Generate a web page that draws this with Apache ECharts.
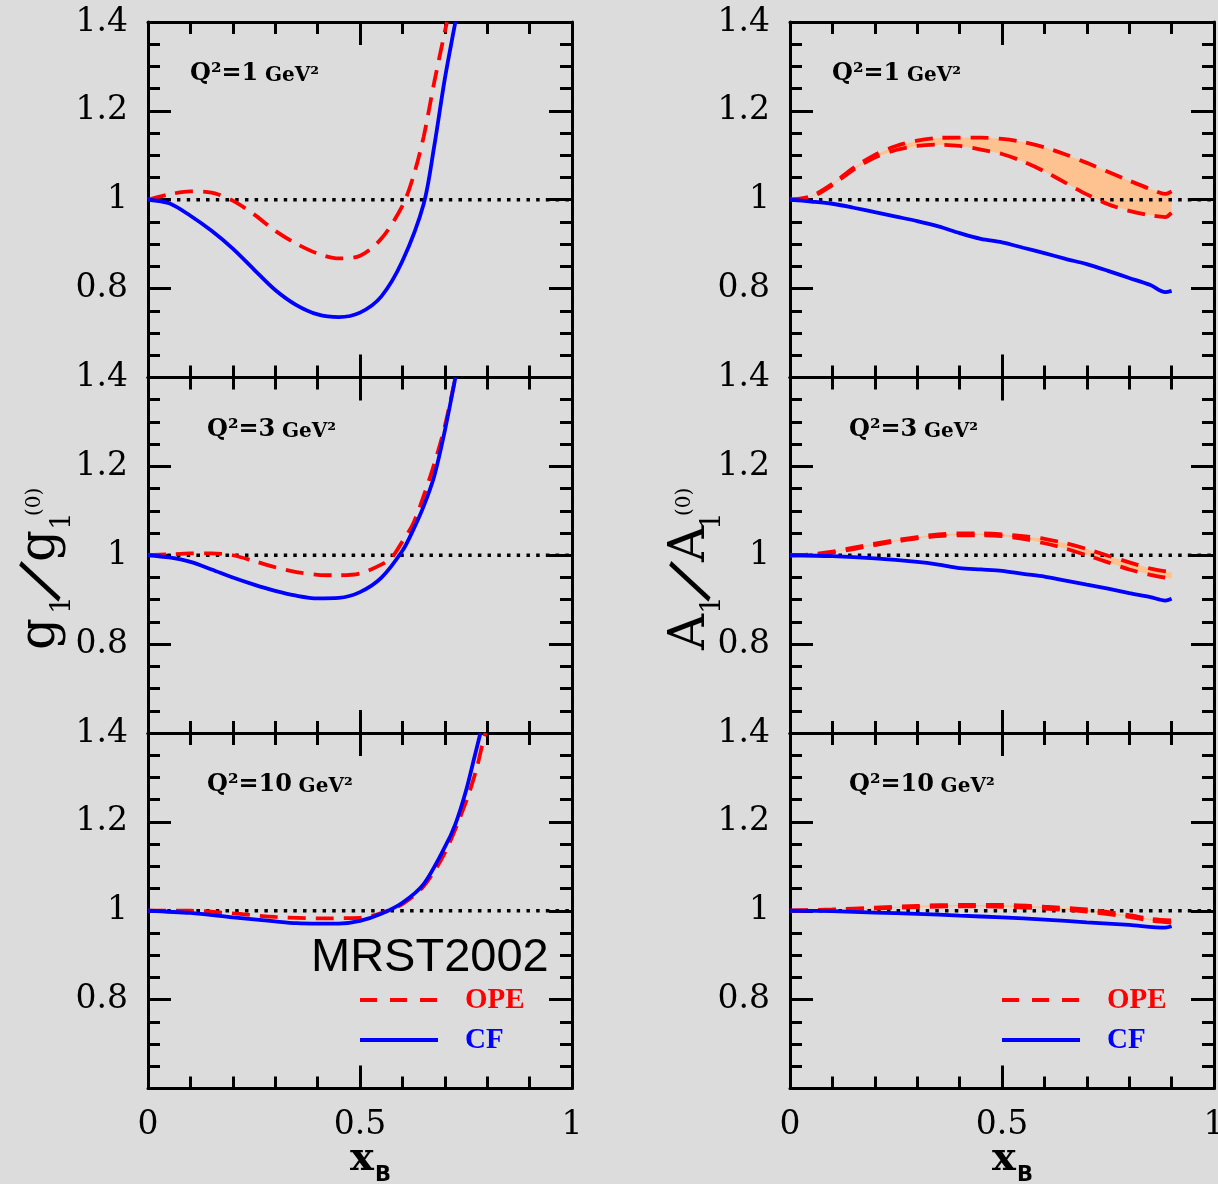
<!DOCTYPE html>
<html>
<head>
<meta charset="utf-8">
<script src="https://cdn.jsdelivr.net/npm/echarts/dist/echarts.min.js"></script>
<style>
  html, body { margin: 0; padding: 0; background: #dcdcdc; overflow: hidden; }
  #chart { width: 1218px; height: 1184px; }
</style>
</head>
<body>
<div id="chart"></div>
<script>
// g1 / g1(0) curves, [xB, ratio]
const g1Q1CF = [[0,1],[0.05,0.992],[0.1,0.964],[0.15,0.93],[0.2,0.89],[0.25,0.843],[0.3,0.797],[0.35,0.763],[0.4,0.742],[0.45,0.736],[0.5,0.746],[0.55,0.782],[0.6,0.862],[0.65,0.99],[0.675,1.12],[0.7,1.272],[0.725,1.40]];
const g1Q1OPE = [[0,1],[0.05,1.012],[0.1,1.019],[0.15,1.016],[0.2,0.998],[0.25,0.967],[0.3,0.93],[0.35,0.901],[0.4,0.879],[0.45,0.868],[0.5,0.874],[0.55,0.912],[0.6,0.986],[0.625,1.05],[0.65,1.141],[0.675,1.264],[0.705,1.40]];
const g1Q3CF = [[0,1],[0.05,0.995],[0.1,0.985],[0.15,0.968],[0.2,0.95],[0.25,0.934],[0.3,0.92],[0.35,0.909],[0.4,0.903],[0.45,0.904],[0.5,0.917],[0.55,0.949],[0.6,1.01],[0.625,1.056],[0.65,1.11],[0.675,1.178],[0.7,1.28],[0.725,1.40]];
const g1Q3OPE = [[0,1],[0.05,1.002],[0.1,1.004],[0.15,1.004],[0.2,1.0],[0.25,0.987],[0.3,0.973],[0.35,0.962],[0.4,0.956],[0.45,0.955],[0.5,0.959],[0.55,0.979],[0.575,0.995],[0.6,1.031],[0.625,1.07],[0.65,1.133],[0.675,1.205],[0.7,1.29],[0.725,1.40]];
const g1Q10CF = [[0,1],[0.1,0.995],[0.2,0.985],[0.3,0.976],[0.35,0.972],[0.4,0.971],[0.45,0.971],[0.5,0.977],[0.55,0.993],[0.6,1.018],[0.65,1.06],[0.7,1.143],[0.725,1.195],[0.75,1.27],[0.77,1.346],[0.784,1.40]];
const g1Q10OPE = [[0,1],[0.1,1.0],[0.2,0.994],[0.3,0.986],[0.4,0.983],[0.5,0.984],[0.55,0.995],[0.6,1.015],[0.65,1.055],[0.7,1.13],[0.75,1.245],[0.775,1.32],[0.79,1.38],[0.796,1.40]];

// A1 / A1(0) curves; OPE is a band between two dashed edges
const a1Q1CF = [[0,1],[0.05,0.996],[0.1,0.991],[0.15,0.982],[0.2,0.972],[0.25,0.962],[0.3,0.952],[0.35,0.94],[0.4,0.925],[0.45,0.912],[0.5,0.904],[0.55,0.892],[0.6,0.88],[0.65,0.867],[0.7,0.855],[0.75,0.84],[0.8,0.824],[0.85,0.808],[0.885,0.792],[0.9,0.795]];
const a1Q1Up = [[0,1],[0.05,1.008],[0.1,1.036],[0.15,1.072],[0.2,1.101],[0.25,1.121],[0.3,1.133],[0.35,1.139],[0.4,1.14],[0.45,1.14],[0.5,1.137],[0.55,1.13],[0.6,1.118],[0.65,1.102],[0.7,1.083],[0.75,1.063],[0.8,1.043],[0.85,1.024],[0.885,1.013],[0.9,1.019]];
const a1Q1Lo = [[0,1],[0.05,1.006],[0.1,1.033],[0.15,1.068],[0.2,1.095],[0.25,1.112],[0.3,1.121],[0.35,1.124],[0.4,1.121],[0.45,1.113],[0.5,1.103],[0.55,1.086],[0.6,1.064],[0.65,1.038],[0.7,1.012],[0.75,0.99],[0.8,0.975],[0.85,0.965],[0.885,0.961],[0.9,0.971]];
const a1Q3CF = [[0,1],[0.1,0.998],[0.2,0.993],[0.3,0.985],[0.35,0.979],[0.4,0.971],[0.45,0.968],[0.5,0.965],[0.55,0.958],[0.6,0.952],[0.65,0.943],[0.7,0.934],[0.75,0.925],[0.8,0.915],[0.85,0.906],[0.885,0.898],[0.9,0.902]];
const a1Q3Up = [[0,1],[0.05,1.002],[0.1,1.008],[0.15,1.017],[0.2,1.026],[0.25,1.034],[0.3,1.041],[0.35,1.047],[0.4,1.049],[0.45,1.049],[0.5,1.047],[0.55,1.043],[0.6,1.037],[0.65,1.027],[0.7,1.014],[0.75,0.999],[0.8,0.984],[0.85,0.97],[0.9,0.962]];
const a1Q3Lo = [[0,1],[0.05,1.001],[0.1,1.006],[0.15,1.014],[0.2,1.023],[0.25,1.031],[0.3,1.038],[0.35,1.043],[0.4,1.045],[0.45,1.045],[0.5,1.043],[0.55,1.037],[0.6,1.027],[0.65,1.015],[0.7,1.0],[0.75,0.984],[0.8,0.968],[0.85,0.956],[0.9,0.947]];
const a1Q10CF = [[0,1],[0.1,0.999],[0.2,0.996],[0.3,0.993],[0.4,0.989],[0.5,0.985],[0.6,0.98],[0.7,0.974],[0.8,0.968],[0.885,0.962],[0.9,0.965]];
const a1Q10Up = [[0,1],[0.1,1.003],[0.2,1.007],[0.3,1.011],[0.4,1.013],[0.5,1.013],[0.6,1.009],[0.7,1.003],[0.8,0.99],[0.85,0.982],[0.9,0.978]];
const a1Q10Lo = [[0,1],[0.1,1.002],[0.2,1.005],[0.3,1.008],[0.4,1.01],[0.5,1.009],[0.6,1.005],[0.7,0.998],[0.8,0.986],[0.85,0.978],[0.9,0.973]];

const qLabels = ['1', '3', '10'];
const xTickLabels = ['0', '0.5', '1'];
const yTickLabels = ['0.8', '1', '1.2', '1.4'];

const panels = [
  { col: 0, row: 0, cf: g1Q1CF, ope: g1Q1OPE },
  { col: 0, row: 1, cf: g1Q3CF, ope: g1Q3OPE },
  { col: 0, row: 2, cf: g1Q10CF, ope: g1Q10OPE },
  { col: 1, row: 0, cf: a1Q1CF, up: a1Q1Up, lo: a1Q1Lo },
  { col: 1, row: 1, cf: a1Q3CF, up: a1Q3Up, lo: a1Q3Lo },
  { col: 1, row: 2, cf: a1Q10CF, up: a1Q10Up, lo: a1Q10Lo },
];

const colLeft = [148, 790];
const rowTop = [22, 377.5, 733];
const panelW = 424;
const panelH = 355.5;
const serif = "'DejaVu Serif', 'Liberation Serif', serif";
const timesBold = "'Liberation Serif', 'DejaVu Serif', serif";
const RED = '#ff0000', BLUE = '#0000ff', BAND = '#fdc290';

const chart = echarts.init(document.getElementById('chart'));

const grids = [], xAxes = [], yAxes = [], series = [];

function fmt(v) { return String(+v.toFixed(2)); }

function xAxisOpt(gi, pos, showLabel) {
  return {
    type: 'value', gridIndex: gi, position: pos, min: 0, max: 1, interval: 0.5,
    axisLine: { show: true, onZero: false, lineStyle: { color: '#000', width: 3 } },
    axisTick: { show: true, inside: true, length: 23, lineStyle: { color: '#000', width: 3 } },
    minorTick: { show: true, splitNumber: 5, length: 12, lineStyle: { color: '#000', width: 3 } },
    splitLine: { show: false },
    axisLabel: {
      show: showLabel, margin: 20, color: '#000', fontFamily: serif, fontSize: 33,
      showMinLabel: true, showMaxLabel: true, hideOverlap: false,
      formatter: v => xTickLabels.includes(fmt(v)) ? fmt(v) : ''
    }
  };
}

function yAxisOpt(gi, pos, showLabel) {
  return {
    type: 'value', gridIndex: gi, position: pos, min: 0.6, max: 1.4, interval: 0.2,
    axisLine: { show: true, onZero: false, lineStyle: { color: '#000', width: 3 } },
    axisTick: { show: true, inside: true, length: 23, lineStyle: { color: '#000', width: 3 } },
    minorTick: { show: true, splitNumber: 4, length: 12, lineStyle: { color: '#000', width: 3 } },
    splitLine: { show: false },
    axisLabel: {
      show: showLabel, margin: 20, color: '#000', fontFamily: serif, fontSize: 33,
      showMinLabel: true, showMaxLabel: true,
      formatter: v => yTickLabels.includes(fmt(v)) ? fmt(v) : ''
    }
  };
}

function lineSeries(i, data, color, dash, width) {
  return {
    type: 'line', xAxisIndex: 2 * i, yAxisIndex: 2 * i, data: data,
    symbol: 'none', smooth: 0.3, clip: true, silent: true,
    lineStyle: { color: color, width: width, type: dash || 'solid', cap: 'butt' }
  };
}

panels.forEach((p, i) => {
  grids.push({
    left: colLeft[p.col], top: rowTop[p.row], width: panelW, height: panelH,
    containLabel: false, outerBoundsMode: 'none'
  });
  xAxes.push(xAxisOpt(i, 'bottom', p.row === 2));
  xAxes.push(xAxisOpt(i, 'top', false));
  yAxes.push(yAxisOpt(i, 'left', true));
  yAxes.push(yAxisOpt(i, 'right', false));

  if (p.up) {
    const up = p.up, lo = p.lo;
    series.push({
      type: 'custom', xAxisIndex: 2 * i, yAxisIndex: 2 * i, data: [0], silent: true, clip: true,
      renderItem: (params, api) => {
        const pts = up.map(d => api.coord(d)).concat(lo.slice().reverse().map(d => api.coord(d)));
        return { type: 'polygon', shape: { points: pts }, style: { fill: BAND } };
      }
    });
  }
  // reference line at 1
  series.push(lineSeries(i, [[0, 1], [1, 1]], '#000', [3.5, 6.2], 3.5));
  if (p.ope) series.push(lineSeries(i, p.ope, RED, [18, 10], 3.8));
  if (p.up) {
    series.push(lineSeries(i, p.up, RED, [18, 10], 3.8));
    series.push(lineSeries(i, p.lo, RED, [18, 10], 3.8));
  }
  series.push(lineSeries(i, p.cf, BLUE, 'solid', 3.8));
});

const graphic = [];

// Q^2 labels in each panel
panels.forEach(p => {
  graphic.push({
    type: 'text', x: colLeft[p.col] + (p.row === 0 ? 42 : 59), y: rowTop[p.row] + 52,
    style: {
      text: '{q|Q²=' + qLabels[p.row] + '}  {g|GeV²}',
      rich: {
        q: { fontFamily: serif, fontWeight: 'bold', fontSize: 24, fill: '#000', verticalAlign: 'bottom' },
        g: { fontFamily: serif, fontWeight: 'bold', fontSize: 20, fill: '#000', verticalAlign: 'bottom' }
      },
      verticalAlign: 'middle'
    }
  });
});

// rotated y-axis titles: base letter, subscript 1, slash, base letter, subscript 1, superscript (0)
function yTitle(letter, bx, by) {
  return {
    type: 'group', x: bx, y: by, rotation: Math.PI / 2,
    children: [
      { type: 'text', x: 0, y: -17, style: { text: letter, fontFamily: serif, fontSize: 50, fill: '#000', verticalAlign: 'middle' } },
      { type: 'text', x: 36, y: 5, style: { text: '1', fontFamily: serif, fontSize: 28, fill: '#000', verticalAlign: 'middle' } },
      { type: 'text', x: 67, y: -15, rotation: -0.44, style: { text: '/', fontFamily: serif, fontSize: 62, fill: '#000', align: 'center', verticalAlign: 'middle' } },
      { type: 'text', x: 88, y: -17, style: { text: letter, fontFamily: serif, fontSize: 50, fill: '#000', verticalAlign: 'middle' } },
      { type: 'text', x: 120, y: 5, style: { text: '1', fontFamily: serif, fontSize: 28, fill: '#000', verticalAlign: 'middle' } },
      { type: 'text', x: 134, y: -23, style: { text: '(0)', fontFamily: serif, fontSize: 20, fill: '#000', verticalAlign: 'middle' } }
    ]
  };
}
graphic.push(yTitle('g', 58, 650));
graphic.push(yTitle('A', 708, 650));

// x-axis titles x_B
colLeft.forEach(l => {
  graphic.push({ type: 'text', x: l + 202, y: 1160, style: { text: 'x', fontFamily: serif, fontWeight: 'bold', fontSize: 40, fill: '#000', verticalAlign: 'middle' } });
  graphic.push({ type: 'text', x: l + 227, y: 1176, style: { text: 'B', fontFamily: "'DejaVu Sans', sans-serif", fontWeight: 'bold', fontSize: 21, fill: '#000', verticalAlign: 'middle' } });
});

graphic.push({
  type: 'text', x: colLeft[0] + 163, y: 958,
  style: { text: 'MRST2002', fontFamily: "'Liberation Sans', Arial, sans-serif", fontSize: 47, fill: '#000', verticalAlign: 'middle' }
});

// legends in the bottom panels
colLeft.forEach(l => {
  graphic.push({ type: 'line', shape: { x1: l + 212, y1: 1000, x2: l + 289, y2: 1000 }, style: { stroke: RED, lineWidth: 4, lineDash: [17, 13] } });
  graphic.push({ type: 'line', shape: { x1: l + 212, y1: 1040, x2: l + 290, y2: 1040 }, style: { stroke: BLUE, lineWidth: 4 } });
  graphic.push({ type: 'text', x: l + 317, y: 1001, style: { text: 'OPE', fontFamily: timesBold, fontWeight: 'bold', fontSize: 29, fill: RED, verticalAlign: 'middle' } });
  graphic.push({ type: 'text', x: l + 317, y: 1041, style: { text: 'CF', fontFamily: timesBold, fontWeight: 'bold', fontSize: 29, fill: BLUE, verticalAlign: 'middle' } });
});

chart.setOption({
  backgroundColor: '#dcdcdc',
  animation: false,
  grid: grids,
  xAxis: xAxes,
  yAxis: yAxes,
  series: series,
  graphic: graphic
});
</script>
</body>
</html>
